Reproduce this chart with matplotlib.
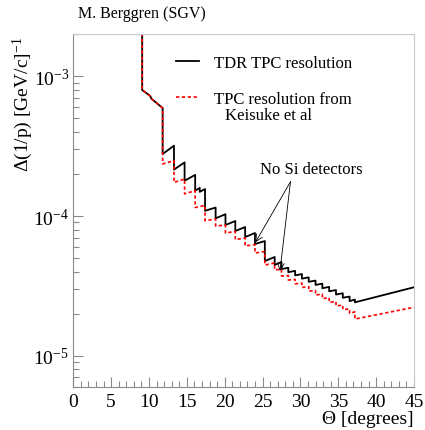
import matplotlib
matplotlib.use("Agg")
import matplotlib.pyplot as plt
from matplotlib.ticker import MultipleLocator, LogLocator, NullFormatter

plt.rcParams['font.family'] = ['Liberation Serif', 'DejaVu Serif']
plt.rcParams['mathtext.fontset'] = 'custom'
plt.rcParams['mathtext.rm'] = 'Liberation Serif'
plt.rcParams['mathtext.it'] = 'Liberation Serif:italic'

# common start of both curves (theta in degrees, resolution in 1/(GeV/c))
head_theta = [9.1, 9.1, 10.13, 10.35, 10.66]
head_res = [3e-3, 7.98e-4, 7.26e-4, 6.88e-4, 6.68e-4]

# angles where a new layer enters (curve drops)
step_theta = [11.8, 13.3, 14.7, 16.1, 16.7, 17.4, 18.8, 20.1, 21.4, 22.7, 24.0,
              25.3, 26.6, 27.5, 28.4, 29.3, 30.2, 31.1, 32.0, 32.9, 33.8, 34.7,
              35.6, 36.5, 37.2]

tdr_top = [5.93e-4, 3.19e-4, 2.42e-4, 1.97e-4, 1.59e-4, 1.56e-4, 1.15e-4, 1.03e-4,
           9.21e-5, 8.34e-5, 7.56e-5, 6.62e-5, 5.09e-5, 4.69e-5, 4.26e-5, 4.05e-5,
           3.84e-5, 3.64e-5, 3.45e-5, 3.28e-5, 3.11e-5, 2.95e-5, 2.80e-5, 2.65e-5,
           2.52e-5]
tdr_bot = [2.78e-4, 2.15e-4, 1.79e-4, 1.52e-4, 1.49e-4, 1.09e-4, 9.63e-5, 8.62e-5,
           7.81e-5, 7.07e-5, 6.30e-5, 4.76e-5, 4.46e-5, 4.17e-5, 3.96e-5, 3.76e-5,
           3.56e-5, 3.38e-5, 3.21e-5, 3.04e-5, 2.89e-5, 2.74e-5, 2.60e-5, 2.46e-5,
           2.41e-5]

kei_top = [5.93e-4, 2.49e-4, 1.84e-4, 1.52e-4, 1.17e-4, 1.19e-4, 9.52e-5, 8.62e-5,
           7.75e-5, 6.96e-5, 6.25e-5, 5.57e-5, 4.61e-5, 4.17e-5, 3.75e-5, 3.52e-5,
           3.31e-5, 3.12e-5, 2.93e-5, 2.76e-5, 2.60e-5, 2.44e-5, 2.30e-5, 2.16e-5,
           2.06e-5]
kei_bot = [2.36e-4, 1.74e-4, 1.44e-4, 1.15e-4, 1.17e-4, 9.26e-5, 8.48e-5, 7.56e-5,
           6.79e-5, 6.10e-5, 5.43e-5, 4.46e-5, 4.11e-5, 3.72e-5, 3.48e-5, 3.27e-5,
           3.08e-5, 2.90e-5, 2.72e-5, 2.56e-5, 2.41e-5, 2.27e-5, 2.14e-5, 2.01e-5,
           1.83e-5]

end_theta = 45.0
tdr_end = 3.09e-5
kei_end = 2.22e-5

# arrows "No Si detectors": (theta, res) of the arrow tips and the common start
arrow_tips = [(24.07, 6.49e-5), (27.3, 4.04e-5)]
arrow_from = (28.69, 1.76e-4)


def build(top, bot, end):
    x = list(head_theta)
    y = list(head_res)
    for t, a, b in zip(step_theta, top, bot):
        x += [t, t]
        y += [a, b]
    x.append(end_theta)
    y.append(end)
    return x, y


fig = plt.figure(figsize=(4.25, 4.31), dpi=100)
ax = fig.add_axes([0.1725, 0.0998, 0.8015, 0.819])

x1, y1 = build(tdr_top, tdr_bot, tdr_end)
x2, y2 = build(kei_top, kei_bot, kei_end)
ax.plot(x1, y1, color='black', lw=1.3, label='TDR TPC resolution')
ax.plot(x2, y2, color='#ff0000', lw=1.2, ls=(0, (2, 1.5)), label='TPC resolution from')

ax.set_yscale('log')
ax.set_xlim(0, 45)
ax.set_ylim(5.97e-6, 2.01e-3)

ax.xaxis.set_major_locator(MultipleLocator(5))
ax.xaxis.set_minor_locator(MultipleLocator(1))
ax.yaxis.set_major_locator(LogLocator(base=10))
ax.yaxis.set_minor_locator(LogLocator(base=10, subs=range(2, 10)))
ax.yaxis.set_minor_formatter(NullFormatter())

grey = '#8a8a8a'
ax.tick_params(which='both', direction='in', colors=grey, labelcolor='black',
               labelsize=14, top=False, right=False)
ax.tick_params(which='major', length=7, width=0.8)
ax.tick_params(which='minor', length=4, width=0.8)
ax.tick_params(axis='x', pad=4)
ax.tick_params(axis='y', pad=3)
for s in ['left', 'bottom']:
    ax.spines[s].set_color(grey)
for s in ['top', 'right']:
    ax.spines[s].set_color('#c8c8c8')

ax.set_xlabel('Θ [degrees]', fontsize=14, loc='right')
ax.xaxis.set_label_coords(1.0, -0.065)
ax.set_ylabel('Δ(1/p) [GeV/c]$^{-1}$', fontsize=14, loc='top')
ax.yaxis.set_label_coords(-0.112, 0.994)

fig.text(0.1835, 0.9675, 'M. Berggren (SGV)', fontsize=11.5, ha='left', va='center')

leg = ax.legend(loc='upper left', bbox_to_anchor=(0.301, 0.94), frameon=False,
                fontsize=12, handlelength=1.4, handletextpad=0.9,
                labelspacing=1.2, borderpad=0, borderaxespad=0)
ax.text(0.445, 0.77, 'Keisuke et al', fontsize=12, transform=ax.transAxes,
        ha='left', va='center')

ax.text(0.7, 0.6176, 'No Si detectors', fontsize=12, transform=ax.transAxes,
        ha='center', va='center')
for tip in arrow_tips:
    ax.annotate('', xy=tip, xytext=arrow_from,
                arrowprops=dict(arrowstyle='->,head_length=0.5,head_width=0.25',
                                color='black', lw=0.6, shrinkA=0, shrinkB=0))

fig.savefig('out.png', dpi=100)
